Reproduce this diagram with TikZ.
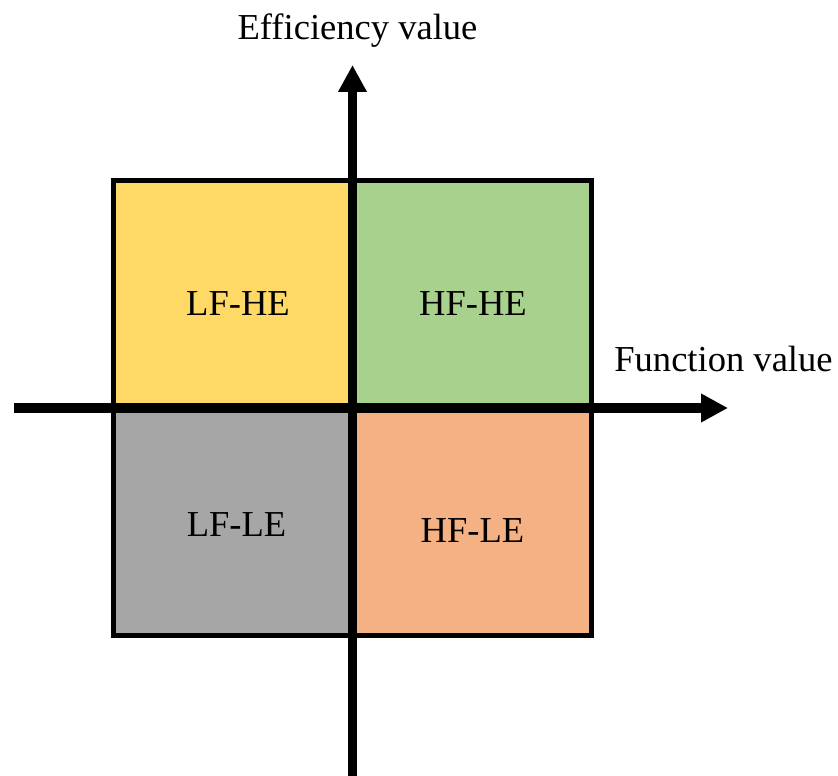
\documentclass[tikz,border=0pt]{standalone}
\usepackage{fontspec}
\setmainfont{Liberation Serif}
\usepackage{xcolor}
\usepackage{tikz}
\usetikzlibrary{arrows.meta,positioning}
\definecolor{QYellow}{HTML}{FFD966}
\definecolor{QGreen}{HTML}{A9D18E}
\definecolor{QGray}{HTML}{A6A6A6}
\definecolor{QOrange}{HTML}{F4B183}

\begin{document}
\begin{tikzpicture}[x=0.02cm,y=-0.02cm,
        quad/.style={draw=none,minimum width=4.77cm,minimum height=4.55cm,inner sep=0pt},
        lbl/.style={font=\fontsize{20.8}{25}\selectfont,anchor=base,inner sep=0pt},
        frame/.style={draw=black,line width=0.1cm},
        axis/.style={-{Triangle[length=0.54cm,width=0.54cm]},line width=0.19cm,black}
      ]
        \useasboundingbox (0,0) rectangle (838,776);
        % quadrants
        \node[quad,fill=QYellow] (lfhe) at (233.25,294.25) {};
        \node[quad,fill=QGreen] (hfhe) at (471.5,294.25) {};
        \node[quad,fill=QGray] (lfle) at (233.25,521.75) {};
        \node[quad,fill=QOrange] (hfle) at (471.5,521.75) {};
        \draw[frame] (lfhe.north west) rectangle (hfle.south east);
        % axes
        \coordinate (xl) at (14,408);
        \coordinate (xr) at (728,408);
        \coordinate (yb) at (352.5,776);
        \coordinate (yt) at (352.5,65);
        \draw[axis] (xl)--(xr);
        \draw[axis] (yb)--(yt);
        % labels
        \node[lbl] (tlfhe) at (238,316) {LF-HE};
        \node[lbl] (thfhe) at (473,316) {HF-HE};
        \node[lbl] (tlfle) at (236.5,536) {LF-LE};
        \node[lbl] (thfle) at (472.5,542) {HF-LE};
        \node[lbl] (ylab) at (357.5,40) {Efficiency value};
        \node[lbl] (xlab) at (723.5,372) {Function value};
      \end{tikzpicture}
\end{document}
